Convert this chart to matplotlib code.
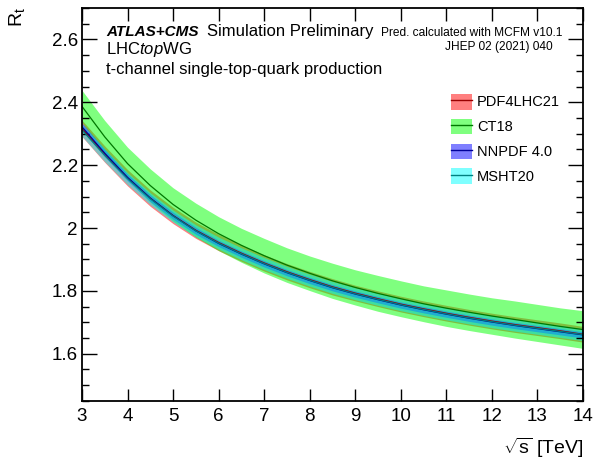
import numpy as np
import matplotlib
matplotlib.use("Agg")
import matplotlib.pyplot as plt
from matplotlib.patches import Patch
from matplotlib.lines import Line2D
from matplotlib.ticker import MultipleLocator

plt.rcParams['font.family'] = ['Liberation Sans', 'DejaVu Sans']
plt.rcParams['mathtext.fontset'] = 'custom'
plt.rcParams['mathtext.rm'] = 'Liberation Sans'
plt.rcParams['mathtext.it'] = 'Liberation Sans:italic'

# centre-of-mass energy [TeV]
sqrt_s = [3.0, 3.5, 4.0, 4.5, 5.0, 5.5, 6.0, 6.5, 7.0, 7.5, 8.0, 8.5,
          9.0, 9.5, 10.0, 10.5, 11.0, 11.5, 12.0, 12.5, 13.0, 13.5, 14.0]

# R_t = sigma(t) / sigma(tbar), central values and half-widths of the bands
pdf4lhc21 = [2.317, 2.235, 2.160, 2.095, 2.040, 1.993, 1.954, 1.920, 1.889, 1.861, 1.836, 1.813,
             1.793, 1.775, 1.758, 1.743, 1.729, 1.716, 1.704, 1.693, 1.683, 1.673, 1.662]
pdf4lhc21_err = [0.026, 0.026, 0.026, 0.026, 0.026, 0.026, 0.026, 0.026, 0.026, 0.026, 0.026, 0.026,
                 0.025, 0.025, 0.025, 0.025, 0.025, 0.025, 0.025, 0.025, 0.025, 0.025, 0.025]

ct18 = [2.387, 2.290, 2.205, 2.135, 2.075, 2.025, 1.982, 1.945, 1.912, 1.882, 1.856, 1.832,
        1.811, 1.792, 1.775, 1.759, 1.745, 1.732, 1.720, 1.709, 1.698, 1.687, 1.677]
ct18_err = [0.051, 0.052, 0.052, 0.053, 0.053, 0.054, 0.054, 0.054, 0.055, 0.055, 0.055, 0.056,
            0.056, 0.057, 0.057, 0.057, 0.058, 0.058, 0.058, 0.059, 0.059, 0.059, 0.060]

nnpdf40 = [2.322, 2.238, 2.161, 2.095, 2.039, 1.991, 1.951, 1.917, 1.886, 1.858, 1.833, 1.810,
           1.790, 1.772, 1.755, 1.740, 1.726, 1.713, 1.701, 1.690, 1.680, 1.670, 1.660]
nnpdf40_err = [0.012, 0.012, 0.011, 0.011, 0.011, 0.011, 0.010, 0.010, 0.010, 0.010, 0.010, 0.010,
               0.010, 0.010, 0.010, 0.010, 0.010, 0.010, 0.010, 0.010, 0.010, 0.010, 0.010]

msht20 = [2.312, 2.231, 2.157, 2.093, 2.038, 1.991, 1.952, 1.918, 1.887, 1.859, 1.834, 1.811,
          1.791, 1.773, 1.756, 1.741, 1.727, 1.714, 1.702, 1.691, 1.681, 1.671, 1.661]
msht20_err = [0.020, 0.020, 0.019, 0.019, 0.019, 0.019, 0.019, 0.019, 0.019, 0.019, 0.019, 0.019,
              0.019, 0.019, 0.019, 0.019, 0.019, 0.019, 0.019, 0.019, 0.019, 0.019, 0.019]

series = [
    ("PDF4LHC21", pdf4lhc21, pdf4lhc21_err, "#ff0000", "#990000"),
    ("CT18", ct18, ct18_err, "#00ff00", "#007700"),
    ("NNPDF 4.0", nnpdf40, nnpdf40_err, "#0000ff", "#000099"),
    ("MSHT20", msht20, msht20_err, "#00ffff", "#008080"),
]

fig = plt.figure(figsize=(5.94, 4.70), dpi=100)
ax = fig.add_axes([0.138, 0.147, 0.8435, 0.836])

x = np.array(sqrt_s)
handles = []
for name, val, err, fill, line in series:
    v = np.array(val)
    e = np.array(err)
    ax.fill_between(x, v - e, v + e, color=fill, alpha=0.5, linewidth=0)
    ax.plot(x, v, color=line, linewidth=0.9)
    handles.append((Patch(facecolor=fill, alpha=0.5, edgecolor='none'),
                    Line2D([], [], color=line, linewidth=1.0)))

ax.set_xlim(3, 14)
ax.set_ylim(1.45, 2.7)
ax.xaxis.set_major_locator(MultipleLocator(1))
ax.yaxis.set_minor_locator(MultipleLocator(0.05))
ax.set_yticks([1.6, 1.8, 2.0, 2.2, 2.4, 2.6])
ax.set_yticklabels(["1.6", "1.8", "2", "2.2", "2.4", "2.6"])
ax.tick_params(axis='both', which='both', direction='in', top=True, right=True,
               labelsize=13.5, width=1.0)
ax.tick_params(axis='x', which='major', length=9, pad=5)
ax.tick_params(axis='y', which='major', length=11, pad=3)
ax.tick_params(axis='y', which='minor', length=5)
for s in ax.spines.values():
    s.set_linewidth(1.3)

leg = ax.legend(handles, [s[0] for s in series], loc='upper left',
                bbox_to_anchor=(0.736, 0.782), frameon=False, fontsize=10.5,
                handlelength=1.45, handleheight=1.3, handletextpad=0.35,
                labelspacing=0.62, borderaxespad=0, borderpad=0)

ax.text(0.048, 0.929, "ATLAS+CMS", transform=ax.transAxes, fontsize=11,
        fontweight='bold', fontstyle='italic', va='baseline')
ax.text(0.2495, 0.929, "Simulation Preliminary", transform=ax.transAxes,
        fontsize=12, va='baseline')
ax.text(0.958, 0.929, "Pred. calculated with MCFM v10.1", transform=ax.transAxes,
        fontsize=8.6, va='baseline', ha='right')
ax.text(0.940, 0.893, "JHEP 02 (2021) 040", transform=ax.transAxes,
        fontsize=8.6, va='baseline', ha='right')
ax.text(0.048, 0.883, r"LHC$\it{top}$WG", transform=ax.transAxes,
        fontsize=12, va='baseline')
ax.text(0.048, 0.832, "t-channel single-top-quark production", transform=ax.transAxes,
        fontsize=12, va='baseline')

fig.text(0.012, 0.985, r"R$_\mathrm{t}$", rotation=90, fontsize=14, ha='left', va='top')
fig.text(0.982, 0.022, r"$\sqrt{\mathrm{s}}$ [TeV]", fontsize=14, ha='right', va='bottom')

fig.savefig("out.png", dpi=100)
